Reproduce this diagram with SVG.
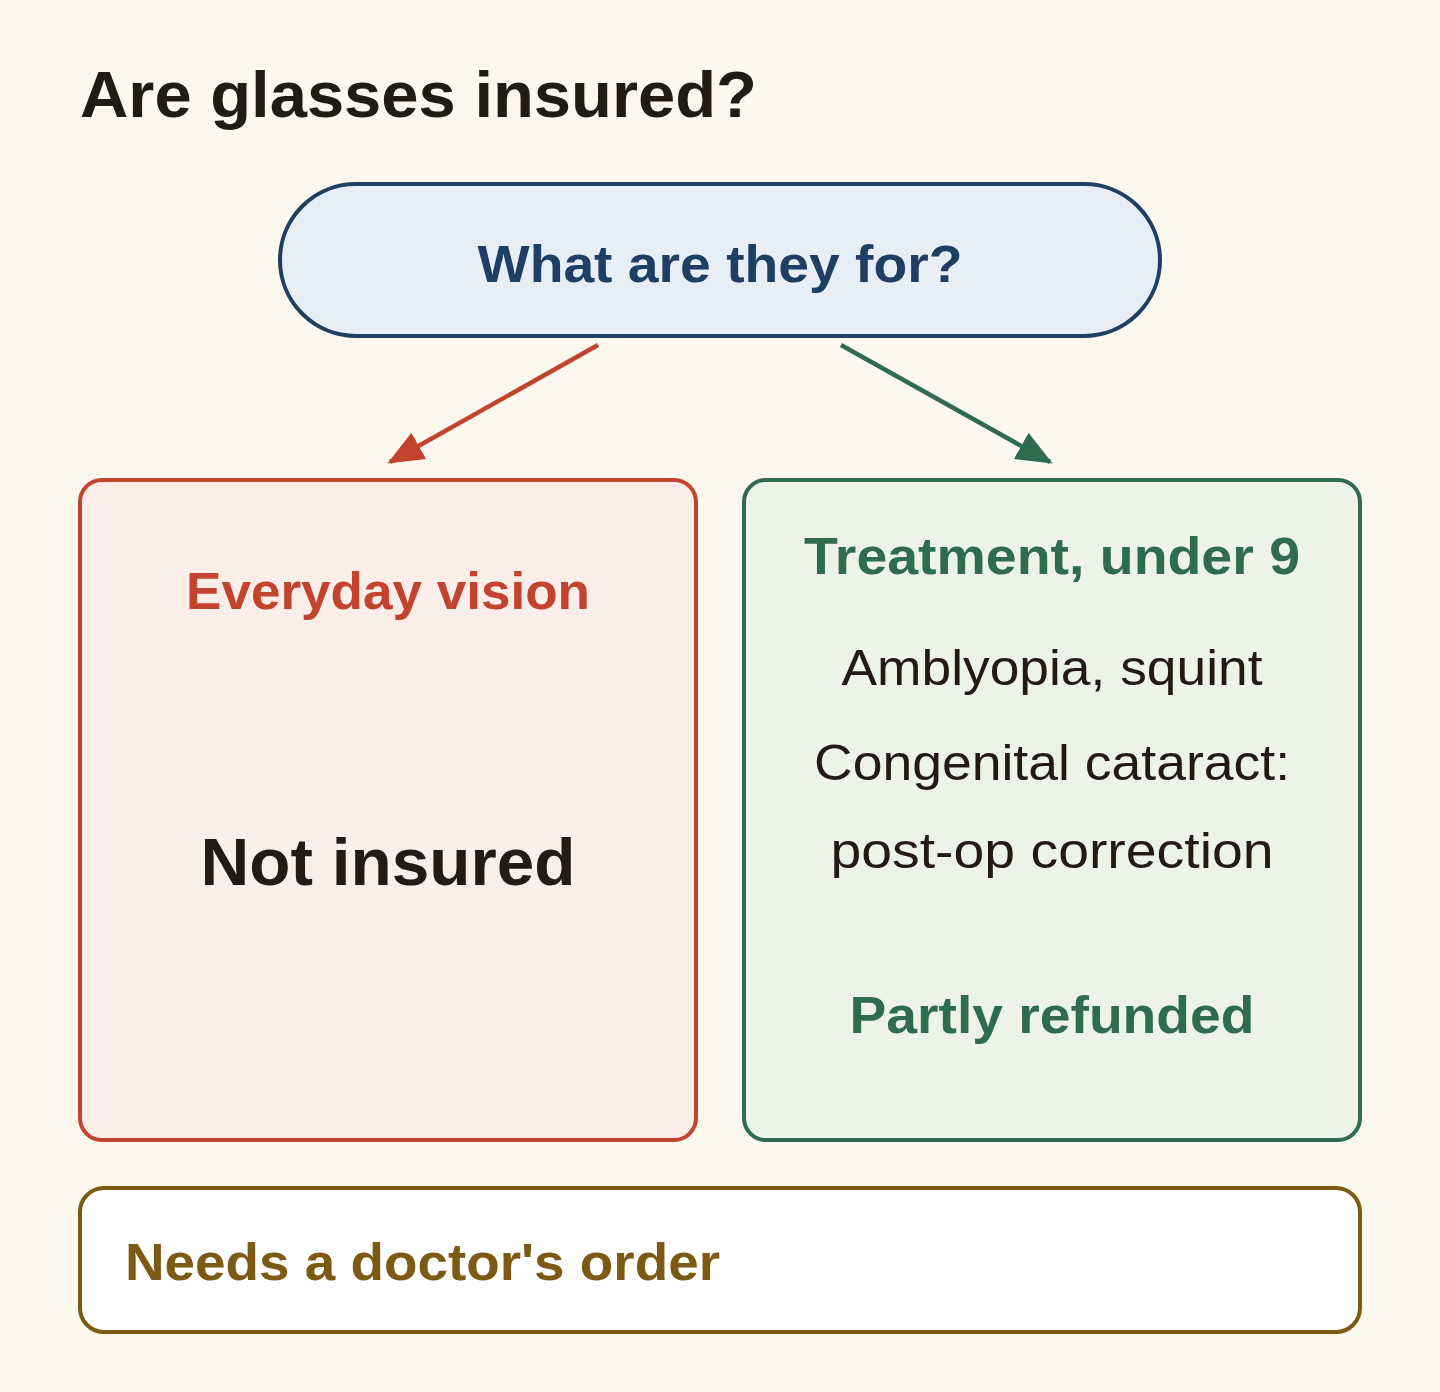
<svg xmlns="http://www.w3.org/2000/svg" width="1440" height="1392" viewBox="0 0 1440 1392">
<style>
text{font-family:"Liberation Sans","Noto Sans",Arial,sans-serif;}
.b{font-weight:bold;}
.c{text-anchor:middle;}
.dark{fill:#231A12;}
.red{fill:#C2432E;}
.green{fill:#2E6B4F;}
.blue{fill:#1E3F63;}
.gold{fill:#7D5A14;}
</style>
<defs>
<marker id="mr" viewBox="0 0 12 10" refX="11" refY="5" markerWidth="36" markerHeight="30" markerUnits="userSpaceOnUse" orient="auto"><path d="M0,0 L12,5 L0,10 z" fill="#C2432E"/></marker>
<marker id="mg" viewBox="0 0 12 10" refX="11" refY="5" markerWidth="36" markerHeight="30" markerUnits="userSpaceOnUse" orient="auto"><path d="M0,0 L12,5 L0,10 z" fill="#2E6B4F"/></marker>
</defs>
<rect width="1440" height="1392" fill="#FCF8EE"/>
<text x="80" y="117" class="b dark" font-size="64" textLength="677" lengthAdjust="spacingAndGlyphs">Are glasses insured?</text>
<g id="connectors">
<line x1="598" y1="345" x2="390" y2="462" stroke="#C2432E" stroke-width="4.5" marker-end="url(#mr)"/>
<line x1="841" y1="345" x2="1050" y2="462" stroke="#2E6B4F" stroke-width="4.5" marker-end="url(#mg)"/>
</g>
<g id="question">
<rect x="280" y="184" width="880" height="152" rx="76" fill="#E8EEF5" stroke="#1E3F63" stroke-width="4"/>
<text x="720" y="282" class="b c blue" font-size="52" textLength="485" lengthAdjust="spacingAndGlyphs">What are they for?</text>
</g>
<g id="everyday">
<rect x="80" y="480" width="616" height="660" rx="22" fill="#FBEDE8" stroke="#C2432E" stroke-width="4"/>
<text x="388" y="609" class="b c red" font-size="52" textLength="404" lengthAdjust="spacingAndGlyphs">Everyday vision</text>
<text x="388" y="885" class="b c dark" font-size="66" textLength="375" lengthAdjust="spacingAndGlyphs">Not insured</text>
</g>
<g id="treatment">
<rect x="744" y="480" width="616" height="660" rx="22" fill="#EEF3EA" stroke="#2E6B4F" stroke-width="4"/>
<text x="1052" y="574" class="b c green" font-size="52" textLength="496" lengthAdjust="spacingAndGlyphs">Treatment, under 9</text>
<text x="1052" y="685" class="c dark" font-size="50" textLength="421" lengthAdjust="spacingAndGlyphs">Amblyopia, squint</text>
<text x="1052" y="780" class="c dark" font-size="50" textLength="476" lengthAdjust="spacingAndGlyphs">Congenital cataract:</text>
<text x="1052" y="868" class="c dark" font-size="50" textLength="443" lengthAdjust="spacingAndGlyphs">post-op correction</text>
<text x="1052" y="1033" class="b c green" font-size="52" textLength="405" lengthAdjust="spacingAndGlyphs">Partly refunded</text>
</g>
<g id="note">
<rect x="80" y="1188" width="1280" height="144" rx="24" fill="#FFFFFF" stroke="#7D5A14" stroke-width="4"/>
<text x="125" y="1280" class="b gold" font-size="52" textLength="595" lengthAdjust="spacingAndGlyphs">Needs a doctor's order</text>
</g>
</svg>
